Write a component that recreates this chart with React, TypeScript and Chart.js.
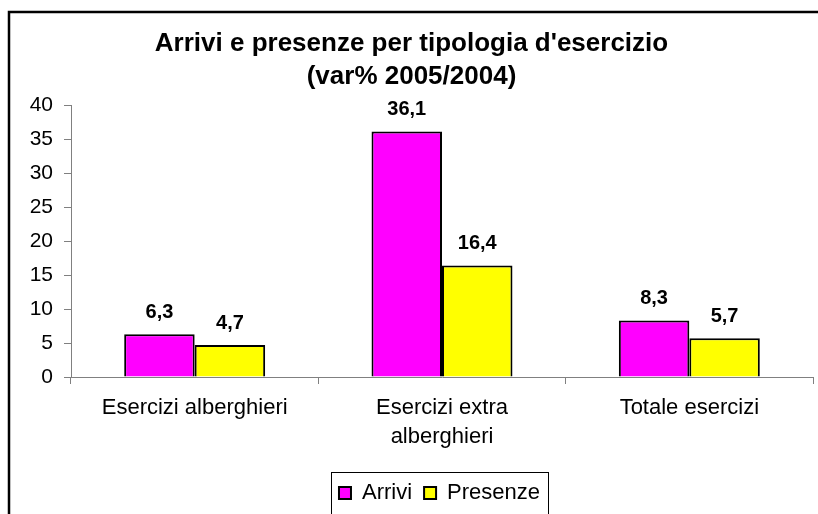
import React, { useEffect, useRef } from "react";
import { Chart, registerables } from "chart.js";

Chart.register(...registerables);

const categories: (string | string[])[] = [
  "Esercizi alberghieri",
  ["Esercizi extra", "alberghieri"],
  "Totale esercizi",
];
const arrivi = [6.3, 36.1, 8.3];
const presenze = [4.7, 16.4, 5.7];
const seriesNames = ["Arrivi", "Presenze"];
const titleLines = ["Arrivi e presenze per tipologia d'esercizio", "(var% 2005/2004)"];
const yMin = 0;
const yMax = 40;
const yStep = 5;

const FONT = "'Liberation Sans', Arial, sans-serif";
const LEGEND_SHIFT = 28;

const framePlugin = {
  id: "frame",
  beforeDraw(chart: any) {
    const ctx = chart.ctx;
    ctx.save();
    ctx.fillStyle = "#ffffff";
    ctx.fillRect(0, 0, chart.width, chart.height);
    ctx.strokeStyle = "#000000";
    ctx.lineWidth = 2.5;
    ctx.beginPath();
    ctx.moveTo(9, chart.height);
    ctx.lineTo(9, 12);
    ctx.lineTo(chart.width, 12);
    ctx.stroke();
    ctx.restore();
  },
};

const legendShiftPlugin = {
  id: "legendShift",
  afterLayout(chart: any) {
    const lg = chart.legend;
    if (!lg) return;
    lg.left += LEGEND_SHIFT;
    lg.right += LEGEND_SHIFT;
  },
};

const valueLabelPlugin = {
  id: "valueLabels",
  afterDatasetsDraw(chart: any) {
    const ctx = chart.ctx;
    ctx.save();
    ctx.font = `bold 20px ${FONT}`;
    ctx.fillStyle = "#000000";
    ctx.textAlign = "center";
    ctx.textBaseline = "middle";
    chart.data.datasets.forEach((ds: any, i: number) => {
      const meta = chart.getDatasetMeta(i);
      meta.data.forEach((bar: any, j: number) => {
        const v = ds.data[j];
        ctx.fillText(String(v).replace(".", ","), bar.x, bar.y - 22);
      });
    });
    ctx.restore();
  },
};

const legendBoxPlugin = {
  id: "legendBox",
  afterDraw(chart: any) {
    const lg = chart.legend;
    if (!lg || !lg.legendHitBoxes || !lg.legendHitBoxes.length) return;
    const boxes = lg.legendHitBoxes;
    let l = Infinity, r = -Infinity, t = Infinity, b = -Infinity;
    boxes.forEach((h: any) => {
      l = Math.min(l, h.left);
      r = Math.max(r, h.left + h.width);
      t = Math.min(t, h.top);
      b = Math.max(b, h.top + h.height);
    });
    const ctx = chart.ctx;
    ctx.save();
    ctx.strokeStyle = "#000000";
    ctx.lineWidth = 1;
    ctx.strokeRect(Math.round(l - 8) + 0.5, Math.round(t - 10) + 0.5, Math.round(r - l + 16), Math.round(b - t + 20));
    ctx.restore();
  },
};

export default function App() {
  const ref = useRef<HTMLCanvasElement>(null);
  useEffect(() => {
    if (!ref.current) return;
    const chart = new Chart(ref.current, {
      type: "bar",
      data: {
        labels: categories,
        datasets: [
          {
            label: seriesNames[0],
            data: arrivi,
            backgroundColor: "#FF00FF",
            borderColor: "#000000",
            borderWidth: 2,
            barPercentage: 1,
            categoryPercentage: 0.57,
          },
          {
            label: seriesNames[1],
            data: presenze,
            backgroundColor: "#FFFF00",
            borderColor: "#000000",
            borderWidth: 2,
            barPercentage: 1,
            categoryPercentage: 0.57,
          },
        ],
      },
      options: {
        responsive: false,
        animation: false,
        devicePixelRatio: 1,
        layout: { padding: { left: 10, right: 5, top: 27, bottom: 0 } },
        plugins: {
          title: {
            display: true,
            text: titleLines,
            color: "#000000",
            font: { family: FONT, size: 26, weight: "bold", lineHeight: 1.27 },
            padding: { top: 0, bottom: 12 },
          },
          legend: {
            display: true,
            position: "bottom",
            labels: {
              color: "#000000",
              font: { family: FONT, size: 22 },
              boxWidth: 12,
              boxHeight: 12,
              padding: 12,
              useBorderRadius: false,
            },
          },
          tooltip: { enabled: false },
        },
        scales: {
          x: {
            grid: {
              display: true,
              drawOnChartArea: false,
              drawTicks: true,
              tickLength: 7,
              color: "#808080",
              offset: true,
            },
            border: { display: true, color: "#808080", width: 1 },
            ticks: {
              color: "#000000",
              font: { family: FONT, size: 22, lineHeight: 1.3 },
              padding: 10,
              maxRotation: 0,
              autoSkip: false,
            },
            afterFit(s: any) {
              s.height = 93;
            },
          },
          y: {
            min: yMin,
            max: yMax,
            grid: {
              display: true,
              drawOnChartArea: false,
              drawTicks: true,
              tickLength: 7,
              color: "#808080",
            },
            border: { display: true, color: "#808080", width: 1 },
            ticks: {
              stepSize: yStep,
              color: "#000000",
              font: { family: FONT, size: 21 },
              padding: 11,
            },
            afterFit(s: any) {
              s.width = 61;
            },
          },
        },
      },
      plugins: [framePlugin, legendShiftPlugin, valueLabelPlugin, legendBoxPlugin],
    });
    return () => chart.destroy();
  }, []);
  return (
    <canvas
      ref={ref}
      width={818}
      height={514}
      style={{ position: "fixed", left: 0, top: 0, width: 818, height: 514 }}
    />
  );
}
